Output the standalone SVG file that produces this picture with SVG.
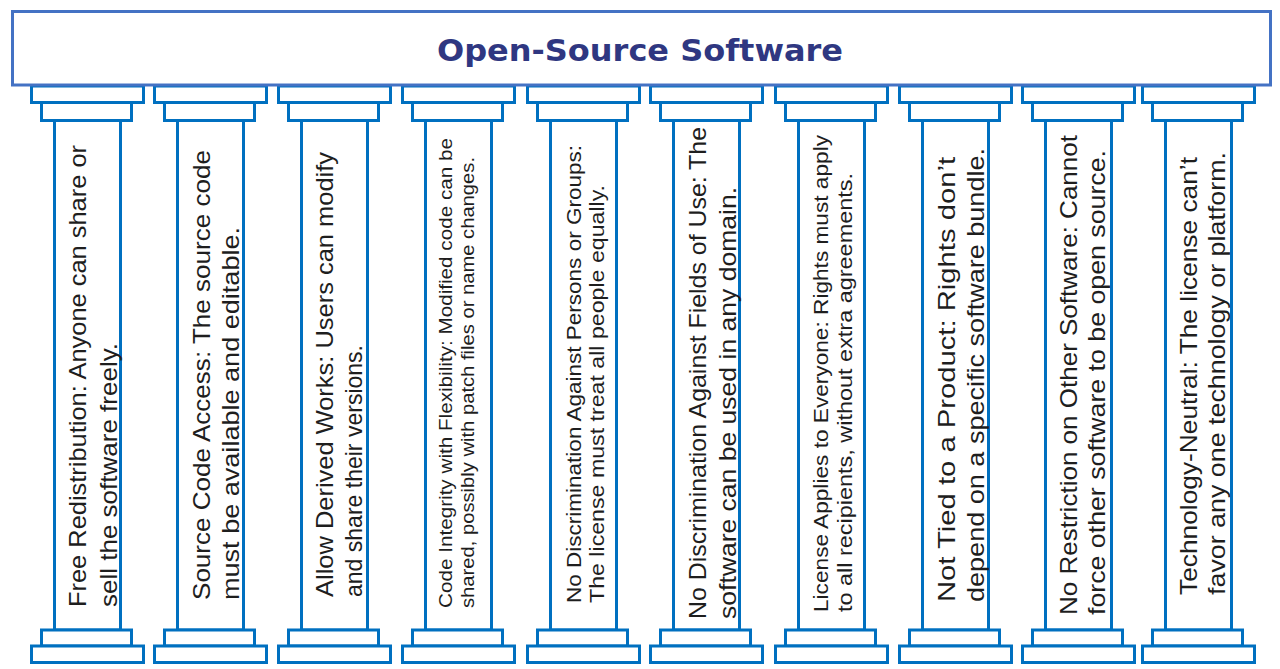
<svg xmlns="http://www.w3.org/2000/svg" width="1280" height="669" viewBox="0 0 1280 669">
  <style>
    .part { fill: #ffffff; stroke: #0070C0; stroke-width: 3; }
    .banner { fill: #ffffff; stroke: #4472C4; stroke-width: 3; }
    .title { font-family: "DejaVu Sans", "Liberation Sans", sans-serif; font-weight: bold; font-size: 30px; fill: #2F3781; }
    .t { font-family: "Liberation Sans", Arial, sans-serif; fill: #1e1e1e; }
    .lg { font-size: 24px; }
    .md { font-size: 20px; }
    .sm { font-size: 18px; }
  </style>
  <defs>
    <!-- one column: capitals, shaft and base, drawn at the origin -->
    <g id="column">
      <rect class="part" x="24.5" y="120.5" width="66" height="509.5"/>
      <rect class="part" x="1.5" y="86" width="112" height="16.5"/>
      <rect class="part" x="11.5" y="102.5" width="90" height="18"/>
      <rect class="part" x="11.5" y="630" width="90" height="16"/>
      <rect class="part" x="1.5" y="646" width="112" height="16.5"/>
    </g>
  </defs>

  <g id="pillar-1">
    <use href="#column" transform="translate(30,0)"/>
    <text class="t lg" transform="translate(86,607) rotate(-90)" textLength="462" lengthAdjust="spacingAndGlyphs">Free Redistribution: Anyone can share or</text>
    <text class="t lg" transform="translate(117,607) rotate(-90)" textLength="264" lengthAdjust="spacingAndGlyphs">sell the software freely.</text>
  </g>

  <g id="pillar-2">
    <use href="#column" transform="translate(153,0)"/>
    <text class="t lg" transform="translate(210,600) rotate(-90)" textLength="450" lengthAdjust="spacingAndGlyphs">Source Code Access: The source code</text>
    <text class="t lg" transform="translate(239,600) rotate(-90)" textLength="373" lengthAdjust="spacingAndGlyphs">must be available and editable.</text>
  </g>

  <g id="pillar-3">
    <use href="#column" transform="translate(277,0)"/>
    <text class="t lg" transform="translate(333,597) rotate(-90)" textLength="445" lengthAdjust="spacingAndGlyphs">Allow Derived Works: Users can modify</text>
    <text class="t lg" transform="translate(362,597) rotate(-90)" textLength="252" lengthAdjust="spacingAndGlyphs">and share their versions.</text>
  </g>

  <g id="pillar-4">
    <use href="#column" transform="translate(401,0)"/>
    <text class="t sm" transform="translate(452,608) rotate(-90)" textLength="470" lengthAdjust="spacingAndGlyphs">Code Integrity with Flexibility: Modified code can be</text>
    <text class="t sm" transform="translate(474,608) rotate(-90)" textLength="451" lengthAdjust="spacingAndGlyphs">shared, possibly with patch files or name changes.</text>
  </g>

  <g id="pillar-5">
    <use href="#column" transform="translate(526,0)"/>
    <text class="t md" transform="translate(581,603) rotate(-90)" textLength="458" lengthAdjust="spacingAndGlyphs">No Discrimination Against Persons or Groups:</text>
    <text class="t md" transform="translate(604,603) rotate(-90)" textLength="418" lengthAdjust="spacingAndGlyphs">The license must treat all people equally.</text>
  </g>

  <g id="pillar-6">
    <use href="#column" transform="translate(649,0)"/>
    <text class="t lg" transform="translate(706,619) rotate(-90)" textLength="492" lengthAdjust="spacingAndGlyphs">No Discrimination Against Fields of Use: The</text>
    <text class="t lg" transform="translate(736,619) rotate(-90)" textLength="432" lengthAdjust="spacingAndGlyphs">software can be used in any domain.</text>
  </g>

  <g id="pillar-7">
    <use href="#column" transform="translate(774,0)"/>
    <text class="t md" transform="translate(828,612) rotate(-90)" textLength="477" lengthAdjust="spacingAndGlyphs">License Applies to Everyone: Rights must apply</text>
    <text class="t md" transform="translate(852,612) rotate(-90)" textLength="439" lengthAdjust="spacingAndGlyphs">to all recipients, without extra agreements.</text>
  </g>

  <g id="pillar-8">
    <use href="#column" transform="translate(898,0)"/>
    <text class="t lg" transform="translate(955,602) rotate(-90)" textLength="445" lengthAdjust="spacingAndGlyphs">Not Tied to a Product: Rights don’t</text>
    <text class="t lg" transform="translate(984,602) rotate(-90)" textLength="454" lengthAdjust="spacingAndGlyphs">depend on a specific software bundle.</text>
  </g>

  <g id="pillar-9">
    <use href="#column" transform="translate(1021,0)"/>
    <text class="t lg" transform="translate(1077,615) rotate(-90)" textLength="480" lengthAdjust="spacingAndGlyphs">No Restriction on Other Software: Cannot</text>
    <text class="t lg" transform="translate(1105,615) rotate(-90)" textLength="465" lengthAdjust="spacingAndGlyphs">force other software to be open source.</text>
  </g>

  <g id="pillar-10">
    <use href="#column" transform="translate(1141,0)"/>
    <text class="t lg" transform="translate(1197,595) rotate(-90)" textLength="438" lengthAdjust="spacingAndGlyphs">Technology-Neutral: The license can’t</text>
    <text class="t lg" transform="translate(1225,595) rotate(-90)" textLength="443" lengthAdjust="spacingAndGlyphs">favor any one technology or platform.</text>
  </g>

  <!-- entablature across the tops of the columns -->
  <g id="banner">
    <rect class="banner" x="12.5" y="11.5" width="1258" height="73.5"/>
    <text class="title" x="640" y="61" text-anchor="middle" textLength="406" lengthAdjust="spacingAndGlyphs">Open-Source Software</text>
  </g>

  <g id="connectors"/>
</svg>
